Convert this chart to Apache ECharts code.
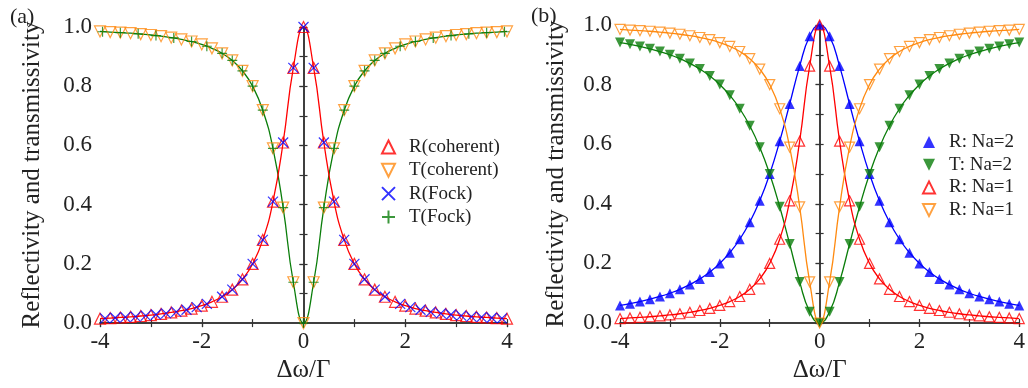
<!DOCTYPE html>
<html>
<head>
<meta charset="utf-8">
<script src="https://cdn.jsdelivr.net/npm/echarts@6/dist/echarts.min.js"></script>
<style>
  html, body { margin: 0; background: #fff; }
  #chart { width: 1028px; height: 388px; }
</style>
</head>
<body>
<div id="chart"></div>
<script>
// detuning grid shared by most curves
const xVals = [-4,-3.8,-3.6,-3.4,-3.2,-3,-2.8,-2.6,-2.4,-2.2,-2,-1.8,-1.6,-1.4,-1.2,-1,-0.8,-0.6,-0.4,-0.2,
  0,0.2,0.4,0.6,0.8,1,1.2,1.4,1.6,1.8,2,2.2,2.4,2.6,2.8,3,3.2,3.4,3.6,3.8,4]

// Na = 1 (also the coherent-state result in panel a)
const rNa1 = [0.015,0.017,0.019,0.021,0.024,0.027,0.031,0.036,0.042,0.049,0.059,0.072,0.089,0.113,0.148,0.200,0.281,0.410,0.610,0.862,
  1.000,0.862,0.610,0.410,0.281,0.200,0.148,0.113,0.089,0.072,0.059,0.049,0.042,0.036,0.031,0.027,0.024,0.021,0.019,0.017,0.015]
const tNa1 = [0.985,0.983,0.981,0.979,0.976,0.973,0.969,0.964,0.958,0.951,0.941,0.928,0.911,0.887,0.852,0.800,0.719,0.590,0.390,0.138,
  0.000,0.138,0.390,0.590,0.719,0.800,0.852,0.887,0.911,0.928,0.941,0.951,0.958,0.964,0.969,0.973,0.976,0.979,0.981,0.983,0.985]

// Na = 2
const rNa2 = [0.059,0.065,0.072,0.080,0.089,0.100,0.113,0.129,0.148,0.171,0.200,0.236,0.281,0.338,0.410,0.500,0.610,0.735,0.862,0.962,
  1.000,0.962,0.862,0.735,0.610,0.500,0.410,0.338,0.281,0.236,0.200,0.171,0.148,0.129,0.113,0.100,0.089,0.080,0.072,0.065,0.059]
const tNa2 = [0.941,0.935,0.928,0.920,0.911,0.900,0.887,0.871,0.852,0.829,0.800,0.764,0.719,0.662,0.590,0.500,0.390,0.265,0.138,0.038,
  0.000,0.038,0.138,0.265,0.390,0.500,0.590,0.662,0.719,0.764,0.800,0.829,0.852,0.871,0.887,0.900,0.911,0.920,0.928,0.935,0.941]

// Fock-state points (panel a)
const fockRx = [-3.9,-3.7,-3.5,-3.3,-3.1,-2.9,-2.7,-2.5,-2.3,-2.1,-1.9,-1.6,-1.4,-1.2,-1,-0.8,-0.6,-0.4,-0.2,
  0,0.2,0.4,0.6,0.8,1,1.2,1.4,1.6,1.9,2.1,2.3,2.5,2.7,2.9,3.1,3.3,3.5,3.7,3.9]
const fockR = [0.016,0.018,0.020,0.022,0.025,0.029,0.033,0.038,0.045,0.054,0.065,0.089,0.113,0.148,0.200,0.281,0.410,0.610,0.862,
  1.000,0.862,0.610,0.410,0.281,0.200,0.148,0.113,0.089,0.065,0.054,0.045,0.038,0.033,0.029,0.025,0.022,0.020,0.018,0.016]
const fockTx = [-3.95,-3.6,-3.25,-2.9,-2.55,-2.2,-1.9,-1.6,-1.4,-1.2,-1,-0.8,-0.6,-0.4,-0.2,
  0,0.2,0.4,0.6,0.8,1,1.2,1.4,1.6,1.9,2.2,2.55,2.9,3.25,3.6,3.95]
const fockT = [0.984,0.981,0.977,0.971,0.963,0.951,0.935,0.911,0.887,0.852,0.800,0.719,0.590,0.390,0.138,
  0.000,0.138,0.390,0.590,0.719,0.800,0.852,0.887,0.911,0.935,0.951,0.963,0.971,0.977,0.981,0.984]

const FONT = 'Liberation Serif'
const AX = '#333'
const RED = '#ff0000', ORANGE = '#ff8a10', BLUE = '#0000ff', GREEN = '#0a7d0a'
const TRI_UP = 'triangle'
const TRI_DOWN = 'path://M0,0L10,0L5,10Z'
const X_MARK = 'path://M0,0L10,10M0,10L10,0'
const PLUS_MARK = 'path://M5,0L5,10M0,5L10,5'

const zip = (xs, ys) => xs.map((x, i) => [x, ys[i]])

function axesFor(gridIndex, nameGapY, nameGapX) {
  const line = { show: true, lineStyle: { color: AX, width: 1.5 } }
  const tick = { color: AX, width: 1.2 }
  const xAxes = [
    { type: 'value', gridIndex, position: 'bottom', min: -4, max: 4, interval: 1,
      axisLine: line, splitLine: { show: false },
      axisTick: { inside: true, length: 4, lineStyle: tick },
      axisLabel: { margin: 7, color: '#222', fontFamily: FONT, fontSize: 23,
        formatter: v => (Math.round(v) % 2 === 0 ? String(v) : '') },
      name: 'Δω/Γ', nameLocation: 'middle', nameGap: nameGapX,
      nameTextStyle: { color: '#222', fontFamily: FONT, fontSize: 25 } },
    { type: 'value', gridIndex, position: 'bottom', min: -4, max: 4, interval: 2,
      axisLine: { show: false }, splitLine: { show: false }, axisLabel: { show: false },
      axisTick: { inside: false, length: 4, lineStyle: tick } },
    { type: 'value', gridIndex, position: 'top', min: -4, max: 4, interval: 1,
      axisLine: line, splitLine: { show: false }, axisLabel: { show: false },
      axisTick: { inside: true, length: 4, lineStyle: tick } },
  ]
  const yAxes = [
    { type: 'value', gridIndex, position: 'left', min: 0, max: 1, interval: 0.1,
      axisLine: line, splitLine: { show: false },
      axisTick: { inside: true, length: 4, lineStyle: tick },
      axisLabel: { margin: 8, color: '#222', fontFamily: FONT, fontSize: 23,
        formatter: v => (Math.round(v * 10) % 2 === 0 ? v.toFixed(1) : '') },
      name: 'Reflectivity and transmissivity', nameLocation: 'middle', nameGap: nameGapY,
      nameTextStyle: { color: '#222', fontFamily: FONT, fontSize: 25 } },
    { type: 'value', gridIndex, position: 'left', min: 0, max: 1, interval: 0.2,
      axisLine: { show: false }, splitLine: { show: false }, axisLabel: { show: false },
      axisTick: { inside: false, length: 4, lineStyle: tick } },
    { type: 'value', gridIndex, position: 'right', min: 0, max: 1, interval: 0.1,
      axisLine: line, splitLine: { show: false }, axisLabel: { show: false },
      axisTick: { inside: true, length: 4, lineStyle: tick } },
  ]
  return { xAxes, yAxes }
}

const a = axesFor(0, 55, 28)
const b = axesFor(1, 51, 33)

function curve(ax, data, color) {
  return { type: 'line', xAxisIndex: ax, yAxisIndex: ax, data, smooth: true, symbol: 'none',
    lineStyle: { color, width: 1.3 }, silent: true, z: 2 }
}
function marks(ax, name, data, symbol, color, opts = {}) {
  return Object.assign({
    type: 'scatter', name, xAxisIndex: ax, yAxisIndex: ax, data, symbol,
    symbolSize: 11, z: 3,
    itemStyle: { color: 'transparent', borderColor: color, borderWidth: 1.2 },
  }, opts)
}

const legendText = { fontFamily: FONT, fontSize: 19, color: '#222', lineHeight: 22, padding: [0, 0, 0, 9] }

const option = {
  animation: false,
  backgroundColor: '#fff',
  title: [
    { text: '(a)', left: 5, top: 1, textStyle: { fontFamily: FONT, fontWeight: 'normal', fontSize: 22, color: '#222' } },
    { text: '(b)', left: 526, top: 0, textStyle: { fontFamily: FONT, fontWeight: 'normal', fontSize: 22, color: '#222' } },
  ],
  grid: [
    { left: 100, right: 521, top: 27, bottom: 63 },
    { left: 620, right: 1, top: 25, bottom: 65 },
  ],
  xAxis: [...a.xAxes, ...b.xAxes],
  yAxis: [...a.yAxes, ...b.yAxes],
  legend: [
    { orient: 'vertical', left: 376, top: 131, itemWidth: 13, itemHeight: 13, itemGap: 1.3,
      data: ['R(coherent)', 'T(coherent)', 'R(Fock)', 'T(Fock)'],
      textStyle: legendText },
    { orient: 'vertical', left: 917, top: 126, itemWidth: 12, itemHeight: 12, itemGap: 0.7,
      data: ['R: Na=2', 'T: Na=2', 'R: Na=1', 'T: Na=1'],
      formatter: n => (n === 'T: Na=1' ? 'R: Na=1' : n),
      textStyle: legendText },
  ],
  series: [
    // panel (a)
    curve(0, zip(xVals, tNa1), GREEN),
    curve(0, zip(xVals, rNa1), RED),
    marks(0, 'R(coherent)', zip(xVals, rNa1), TRI_UP, RED),
    marks(0, 'T(coherent)', zip(xVals, tNa1), TRI_DOWN, ORANGE),
    marks(0, 'R(Fock)', zip(fockRx, fockR), X_MARK, BLUE, { symbolSize: 10 }),
    marks(0, 'T(Fock)', zip(fockTx, fockT), PLUS_MARK, GREEN, { symbolSize: 10 }),
    // panel (b)
    curve(3, zip(xVals, rNa2), BLUE),
    curve(3, zip(xVals, tNa2), GREEN),
    curve(3, zip(xVals, rNa1), RED),
    curve(3, zip(xVals, tNa1), ORANGE),
    marks(3, 'R: Na=2', zip(xVals, rNa2), TRI_UP, BLUE, { itemStyle: { color: BLUE }, symbolSize: 10 }),
    marks(3, 'T: Na=2', zip(xVals, tNa2), TRI_DOWN, GREEN, { itemStyle: { color: GREEN }, symbolSize: 10 }),
    marks(3, 'R: Na=1', zip(xVals, rNa1), TRI_UP, RED, { symbolSize: 10 }),
    marks(3, 'T: Na=1', zip(xVals, tNa1), TRI_DOWN, ORANGE, { symbolSize: 10 }),
  ],
}

const chart = echarts.init(document.getElementById('chart'))
chart.setOption(option)
</script>
</body>
</html>
